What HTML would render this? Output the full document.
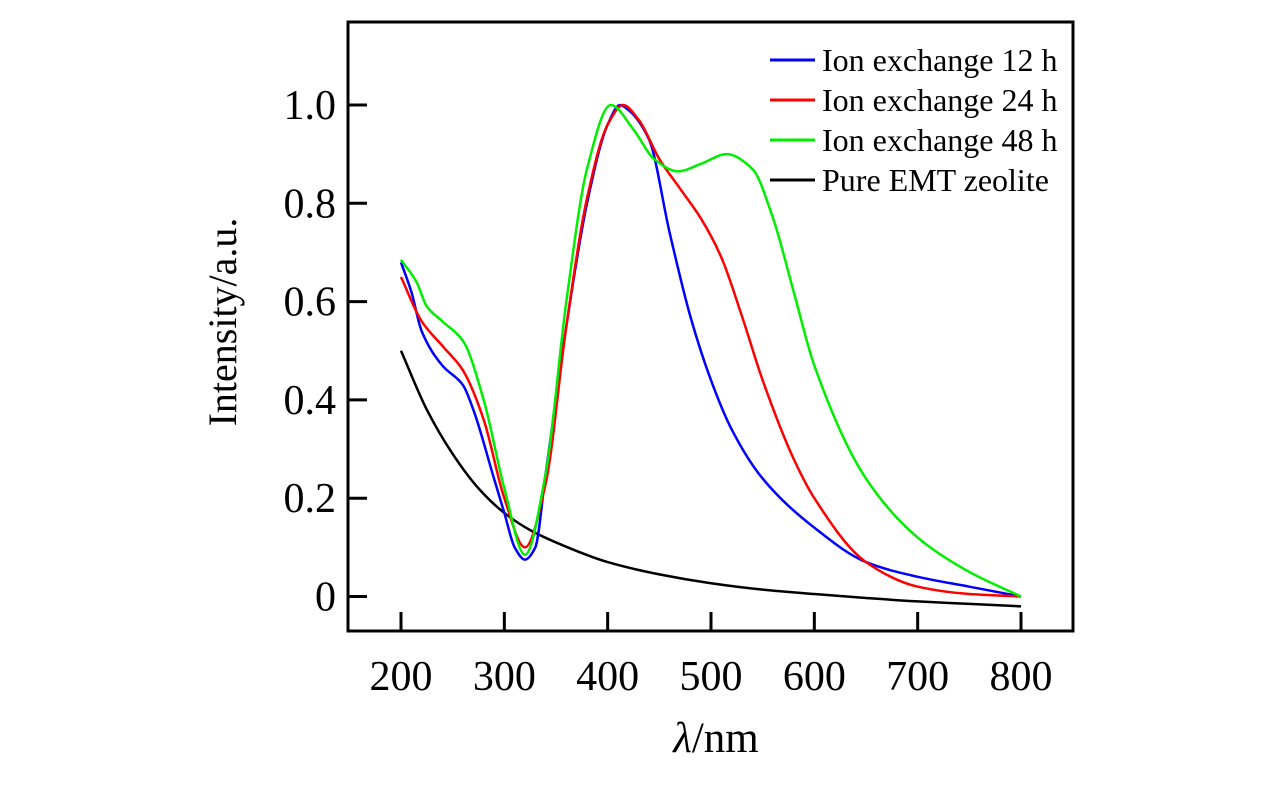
<!DOCTYPE html>
<html><head><meta charset="utf-8"><style>
body{margin:0;background:#fff}
svg text{font-family:"Liberation Serif",serif;fill:#000}
</style></head><body>
<svg id="chart" width="1276" height="787">
<rect x="348" y="22" width="725" height="609" fill="none" stroke="#000" stroke-width="3"/>
<g id="ticks"></g><g id="series"></g>
<text x="716" y="752" font-size="43" text-anchor="middle"><tspan font-style="italic">λ</tspan>/nm</text>
<text transform="translate(236,322) rotate(-90)" font-size="40" text-anchor="middle">Intensity/a.u.</text>
<g id="legend"></g>
</svg>
<script>
const xTicks=[200,300,400,500,600,700,800];
const yTicks=[0,0.2,0.4,0.6,0.8,1.0];
const yTickLabels=["0","0.2","0.4","0.6","0.8","1.0"];
const seriesNames=["Ion exchange 12 h","Ion exchange 24 h","Ion exchange 48 h","Pure EMT zeolite"];
const seriesColors=["#0000ff","#ff0000","#00ee00","#000000"];
const blueX=[200,210,220,240,260,270,290,300,310,320,330,340,360,380,400,412,420,440,460,480,500,520,550,600,650,700,750,800];
const blueY=[0.68,0.62,0.54,0.47,0.43,0.38,0.24,0.17,0.10,0.075,0.10,0.25,0.55,0.80,0.96,1.0,0.99,0.93,0.74,0.57,0.44,0.34,0.24,0.14,0.07,0.04,0.02,0.0];
const redX=[200,220,240,260,280,300,320,340,360,380,400,415,430,450,470,490,510,530,550,580,600,650,700,750,800];
const redY=[0.65,0.56,0.51,0.46,0.36,0.20,0.10,0.23,0.55,0.81,0.96,1.0,0.97,0.89,0.83,0.77,0.69,0.57,0.44,0.28,0.20,0.07,0.02,0.005,0.0];
const greenX=[200,215,225,240,260,280,300,320,340,360,380,403,425,445,468,490,515,540,560,580,600,650,700,750,800];
const greenY=[0.685,0.64,0.59,0.56,0.52,0.40,0.22,0.085,0.25,0.60,0.87,1.0,0.95,0.89,0.865,0.88,0.90,0.87,0.77,0.62,0.47,0.24,0.12,0.05,0.0];
const blackX=[200,225,250,275,300,325,350,400,450,500,550,600,650,700,750,800];
const blackY=[0.5,0.38,0.29,0.22,0.17,0.135,0.11,0.07,0.045,0.027,0.014,0.005,-0.003,-0.01,-0.015,-0.02];
const NS="http://www.w3.org/2000/svg";
const sx=v=>401+(v-200)*(1021-401)/600;
const sy=v=>596.5-v*(596.5-105)/1.0;
const tg=document.getElementById('ticks');
function mk(tag,attrs,parent){const e=document.createElementNS(NS,tag);for(const k in attrs)e.setAttribute(k,attrs[k]);parent.appendChild(e);return e;}
xTicks.forEach(t=>{
 const l=mk('line',{x1:sx(t),x2:sx(t),y1:631,y2:612,stroke:'#000','stroke-width':3},tg);
 
 
 const tx=mk('text',{x:sx(t),y:690,'font-size':42,'text-anchor':'middle'},tg);tx.textContent=t;
 
 
});
yTicks.forEach((t,i)=>{
 const l=mk('line',{x1:348,x2:367,y1:sy(t),y2:sy(t),stroke:'#000','stroke-width':3},tg);
 
 
 const tx=mk('text',{x:336,y:sy(t)+14,'font-size':42,'text-anchor':'end'},tg);tx.textContent=yTickLabels[i];
 
 
});
function path(xs,ys){
 const n=xs.length,d=[],m=new Array(n);
 for(let i=0;i<n-1;i++)d.push((ys[i+1]-ys[i])/(xs[i+1]-xs[i]));
 m[0]=d[0];m[n-1]=d[n-2];
 for(let i=1;i<n-1;i++){
  if(d[i-1]*d[i]<=0)m[i]=0;
  else{const w1=2*(xs[i+1]-xs[i])+(xs[i]-xs[i-1]),w2=(xs[i+1]-xs[i])+2*(xs[i]-xs[i-1]);m[i]=(w1+w2)/(w1/d[i-1]+w2/d[i]);}
 }
 let s='M'+sx(xs[0])+','+sy(ys[0]);
 for(let i=0;i<n-1;i++){
  const h=xs[i+1]-xs[i];
  s+=' C'+sx(xs[i]+h/3)+','+sy(ys[i]+m[i]*h/3)+' '+sx(xs[i+1]-h/3)+','+sy(ys[i+1]-m[i+1]*h/3)+' '+sx(xs[i+1])+','+sy(ys[i+1]);
 }
 return s;
}
const sg=document.getElementById('series');
const data=[[blackX,blackY,3],[blueX,blueY,0],[redX,redY,1],[greenX,greenY,2]];
const names=['line-pure-emt','line-12h','line-24h','line-48h'];
data.forEach((s,i)=>{
 const e=mk('path',{d:path(s[0],s[1]),fill:'none',stroke:seriesColors[s[2]],'stroke-width':2.5},sg);
 
 
});
const lg=document.getElementById('legend');
seriesNames.forEach((n,i)=>{
 const y=60+i*40;
 const l=mk('line',{x1:770,x2:815,y1:y,y2:y,stroke:seriesColors[i],'stroke-width':3},lg);
 
 
 const t=mk('text',{x:822,y:y+11,'font-size':32},lg);t.textContent=n;
 
 
});
</script>
</body></html>
